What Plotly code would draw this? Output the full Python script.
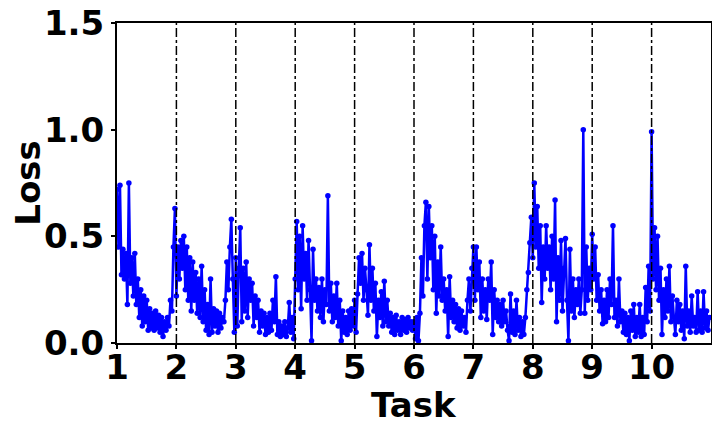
import plotly.graph_objects as go

# loss values per task (40 steps per task)
task1 = [0.72, 0.45, 0.74, 0.32, 0.44, 0.30, 0.42, 0.18, 0.75, 0.28,
         0.40, 0.22, 0.42, 0.18, 0.30, 0.12, 0.25, 0.08, 0.22, 0.10,
         0.20, 0.06, 0.16, 0.07, 0.14, 0.06, 0.15, 0.07, 0.13, 0.05,
         0.12, 0.03, 0.10, 0.06, 0.12, 0.08, 0.20, 0.15, 0.45, 0.63]
task2 = [0.22, 0.45, 0.30, 0.48, 0.35, 0.50, 0.25, 0.45, 0.20, 0.40,
         0.15, 0.38, 0.20, 0.33, 0.14, 0.30, 0.12, 0.36, 0.10, 0.25,
         0.06, 0.18, 0.04, 0.30, 0.05, 0.16, 0.08, 0.15, 0.05, 0.14,
         0.07, 0.12, 0.10, 0.20, 0.38, 0.25, 0.45, 0.58, 0.30, 0.05]
task3 = [0.40, 0.08, 0.35, 0.54, 0.10, 0.35, 0.15, 0.38, 0.12, 0.30,
         0.20, 0.28, 0.08, 0.22, 0.12, 0.20, 0.05, 0.15, 0.08, 0.14,
         0.04, 0.12, 0.05, 0.14, 0.06, 0.20, 0.10, 0.31, 0.04, 0.10,
         0.03, 0.08, 0.04, 0.10, 0.03, 0.07, 0.19, 0.05, 0.12, 0.02]
task4 = [0.30, 0.57, 0.25, 0.50, 0.16, 0.55, 0.30, 0.42, 0.20, 0.48,
         0.25, 0.01, 0.44, 0.20, 0.30, 0.15, 0.26, 0.12, 0.30, 0.10,
         0.25, 0.18, 0.69, 0.15, 0.28, 0.10, 0.22, 0.12, 0.28, 0.08,
         0.20, 0.01, 0.15, 0.05, 0.12, 0.04, 0.15, 0.06, 0.16, 0.08]
task5 = [0.20, 0.05, 0.23, 0.40, 0.28, 0.42, 0.20, 0.35, 0.25, 0.13,
         0.46, 0.20, 0.35, 0.15, 0.28, 0.03, 0.20, 0.12, 0.24, 0.08,
         0.29, 0.10, 0.20, 0.08, 0.14, 0.05, 0.12, 0.04, 0.13, 0.06,
         0.10, 0.04, 0.12, 0.06, 0.11, 0.05, 0.12, 0.07, 0.10, 0.06]
task6 = [0.10, 0.02, 0.12, 0.01, 0.14, 0.40, 0.22, 0.55, 0.66, 0.30,
         0.64, 0.40, 0.55, 0.25, 0.50, 0.14, 0.38, 0.22, 0.45, 0.20,
         0.30, 0.15, 0.25, 0.03, 0.31, 0.12, 0.20, 0.10, 0.18, 0.07,
         0.16, 0.06, 0.15, 0.08, 0.12, 0.05, 0.20, 0.30, 0.15, 0.35]
task7 = [0.45, 0.20, 0.45, 0.25, 0.38, 0.12, 0.30, 0.15, 0.25, 0.11,
         0.30, 0.20, 0.38, 0.04, 0.25, 0.12, 0.20, 0.10, 0.18, 0.08,
         0.20, 0.10, 0.15, 0.06, 0.01, 0.23, 0.05, 0.15, 0.04, 0.20,
         0.06, 0.12, 0.03, 0.10, 0.04, 0.12, 0.25, 0.33, 0.47, 0.59]
task8 = [0.40, 0.75, 0.45, 0.64, 0.35, 0.55, 0.19, 0.45, 0.30, 0.55,
         0.35, 0.45, 0.25, 0.50, 0.30, 0.67, 0.10, 0.40, 0.20, 0.48,
         0.15, 0.35, 0.49, 0.20, 0.01, 0.44, 0.15, 0.30, 0.12, 0.25,
         0.18, 0.30, 0.14, 0.25, 1.00, 0.14, 0.45, 0.20, 0.35, 0.25]
task9 = [0.51, 0.30, 0.45, 0.20, 0.32, 0.15, 0.25, 0.09, 0.20, 0.10,
         0.25, 0.12, 0.30, 0.18, 0.55, 0.12, 0.20, 0.08, 0.30, 0.10,
         0.15, 0.05, 0.14, 0.04, 0.12, 0.01, 0.15, 0.06, 0.18, 0.03,
         0.12, 0.05, 0.18, 0.03, 0.12, 0.04, 0.26, 0.10, 0.36, 0.15]
task10 = [0.99, 0.30, 0.54, 0.25, 0.50, 0.20, 0.35, 0.04, 0.25, 0.12,
          0.30, 0.15, 0.36, 0.10, 0.22, 0.12, 0.04, 0.20, 0.10, 0.18,
          0.06, 0.15, 0.02, 0.36, 0.08, 0.15, 0.05, 0.22, 0.08, 0.12,
          0.05, 0.24, 0.06, 0.15, 0.05, 0.24, 0.07, 0.15, 0.06, 0.12]

tasks = [task1, task2, task3, task4, task5, task6, task7, task8, task9, task10]
task_ticks = [1, 2, 3, 4, 5, 6, 7, 8, 9, 10]
y_ticks = [0.0, 0.5, 1.0, 1.5]

x, y = [], []
for t, vals in zip(task_ticks, tasks):
    n = len(vals)
    for j, v in enumerate(vals):
        x.append(t + j / n)
        y.append(v)

font_bold = dict(family='DejaVu Sans', size=34, color='black', weight='bold')

fig = go.Figure()
fig.add_trace(go.Scatter(
    x=x, y=y,
    mode='lines+markers',
    line=dict(color='#0000ff', width=2.5),
    marker=dict(color='#0000ff', size=5.5),
    showlegend=False,
))

# task boundaries
for t in task_ticks[1:]:
    fig.add_shape(type='line', xref='x', yref='paper',
                  x0=t, x1=t, y0=0, y1=1,
                  line=dict(color='black', width=1.5, dash='dashdot'))

# x title as annotation so it can sit close to the tick labels
fig.add_annotation(text='Task', xref='paper', yref='paper', x=0.5, y=0,
                   xanchor='center', yanchor='top', yshift=-40,
                   showarrow=False, font=font_bold)

# page body adds an 8px margin, so the figure is 16px smaller than the window
fig.update_layout(
    width=704, height=416,
    margin=dict(l=109, r=1, t=15, b=81),
    plot_bgcolor='white',
    paper_bgcolor='white',
    xaxis=dict(
        range=[1, 11], tickmode='array', tickvals=task_ticks,
        ticktext=[str(t) for t in task_ticks],
        ticks='outside', ticklen=4, tickwidth=1.5, tickcolor='black',
        showgrid=False, zeroline=False, automargin=False,
        showline=True, linewidth=2, linecolor='black', mirror=True,
        tickfont=font_bold, ticklabelstandoff=-11, ticklabeloverflow='allow',
    ),
    yaxis=dict(
        range=[0, 1.5], tickmode='array', tickvals=y_ticks,
        tickformat='.1f',
        ticks='outside', ticklen=4, tickwidth=1.5, tickcolor='black',
        showgrid=False, zeroline=False, automargin=False,
        showline=True, linewidth=2, linecolor='black', mirror=True,
        tickfont=font_bold, ticklabeloverflow='allow',
        title=dict(text='Loss', font=font_bold, standoff=8),
    ),
)

fig.write_html("out.html")
